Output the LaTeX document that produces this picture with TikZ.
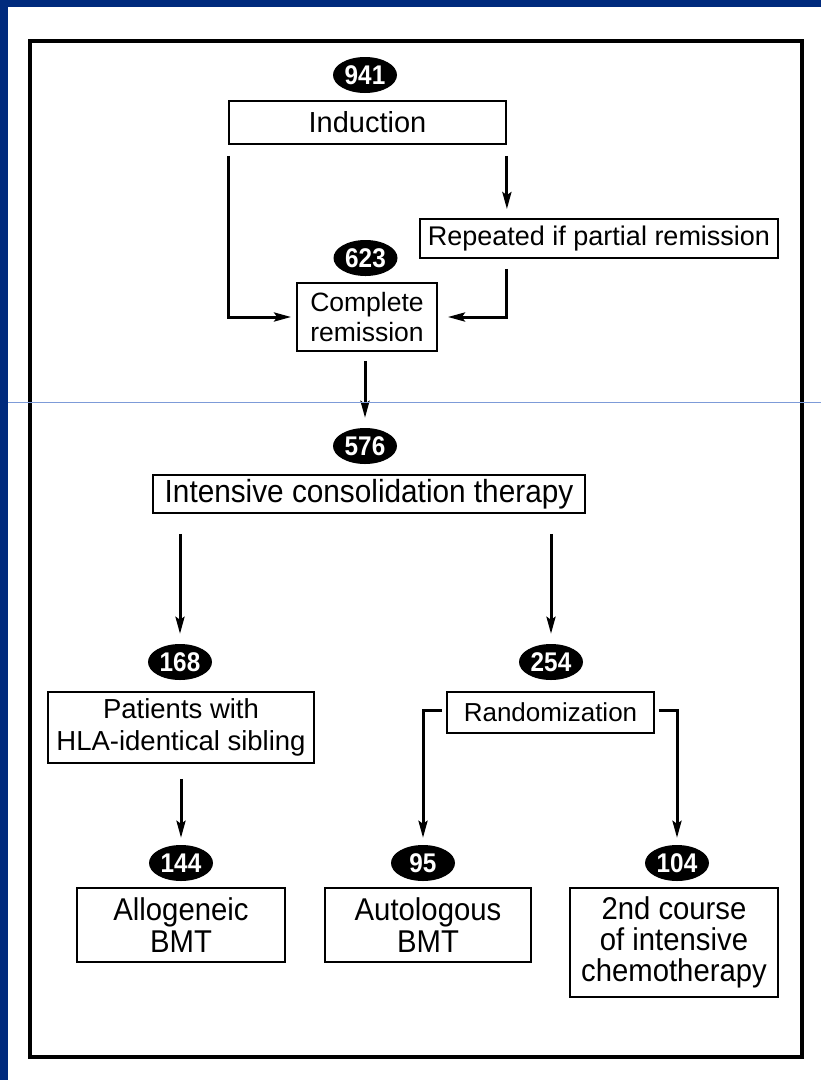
\documentclass[tikz,border=0pt]{standalone}
\usepackage{fontspec}
\setmainfont{Liberation Sans}
\newfontfamily\narrowfont[FakeStretch=0.93]{Liberation Sans}
\newfontfamily\numfont[FakeStretch=0.9]{Liberation Sans}
\usetikzlibrary{shapes.geometric,arrows.meta,calc}
\definecolor{navy}{HTML}{002A7D}
\definecolor{rulecol}{HTML}{7D9BD8}
\newcommand{\fsz}[2]{\fontsize{#1pt}{#2pt}\selectfont}
\begin{document}
\begin{tikzpicture}[x=1pt,y=-1pt,
  box/.style={draw,line width=1.8pt,inner sep=0pt,align=center,text=black},
  num/.style={ellipse,fill=black,text=white,inner sep=0pt,minimum width=64pt,minimum height=36pt,font=\numfont\bfseries\fsz{27}{27}},
  arr/.style={line width=3pt,-{Stealth[length=17pt,width=9pt,inset=3pt]},line join=miter}]
\useasboundingbox (0,0) rectangle (821,1080);
\fill[white] (0,0) rectangle (821,1080);
\fill[navy] (0,0) rectangle (821,7);
\fill[navy] (0,0) rectangle (8,1080);
\draw[line width=3.5pt] (30,41) rectangle (802,1057);

\node[num] (n941) at (365,75) {941};
\node[box,minimum width=277pt,minimum height=43pt,font=\fsz{29}{33}] (ind) at (367.5,122.5) {Induction};
\node[box,minimum width=358pt,minimum height=39pt,font=\fsz{27}{31}] (rep) at (599,238.5) {Repeated if partial remission};
\node[num] (n623) at (365.5,258) {623};
\node[box,minimum width=140pt,minimum height=68pt,font=\fsz{26.5}{30}] (cr) at (367,317) {Complete\\remission};
\node[num] (n576) at (365,446) {576};
\node[box,minimum width=432pt,minimum height=38pt,font=\narrowfont\fsz{32}{34}] (ict) at (369,494) {Intensive consolidation therapy};
\node[num] (n168) at (180,662) {168};
\node[num] (n254) at (551,662) {254};
\node[box,minimum width=266pt,minimum height=71pt,font=\fsz{27.5}{32}] (pat) at (181,727.5) {Patients with\\HLA-identical sibling};
\node[box,minimum width=207pt,minimum height=41pt,font=\fsz{26}{30}] (rnd) at (550.5,712.5) {Randomization};
\node[num] (n144) at (181,863) {144};
\node[num] (n95) at (423,863) {95};
\node[num] (n104) at (677,863) {104};
\node[box,minimum width=208pt,minimum height=74pt,font=\narrowfont\fsz{31.5}{32}] (allo) at (181,925) {Allogeneic\\BMT};
\node[box,minimum width=206pt,minimum height=74pt,font=\narrowfont\fsz{31.5}{32}] (auto) at (428,925) {Autologous\\BMT};
\node[box,minimum width=208pt,minimum height=109pt,font=\narrowfont\fsz{31.5}{31}] (chemo) at (674,942.5) {2nd course\\of intensive\\chemotherapy};

\draw[arr] ([yshift=-11pt]ind.south west) |- ([xshift=-5pt]cr.west);
\draw[arr] ([yshift=-11pt]ind.south east) -- ([yshift=9pt]ind.south east |- rep.north);
\draw[arr] ([yshift=-10pt]ind.south east |- rep.south) |- ([xshift=10pt]cr.east);
\draw[arr] ([yshift=-9pt]cr.south -| n576.north) -- ([yshift=10pt]n576.north);
\draw[arr] ([yshift=-20pt]ict.south -| n168.north) -- ([yshift=10pt]n168.north);
\draw[arr] ([yshift=-20pt]ict.south -| n254.north) -- ([yshift=10pt]n254.north);
\draw[arr] ([yshift=-15pt]pat.south -| n144.north) -- ([yshift=7pt]n144.north);
\draw[arr] ([xshift=-4pt,yshift=2pt]rnd.west) -| ([yshift=7pt]n95.north);
\draw[arr] ([xshift=4pt,yshift=2pt]rnd.east) -| ([yshift=7pt]n104.north);

\draw[rulecol,line width=1pt] (8,402) -- (821,402);
\end{tikzpicture}
\end{document}
